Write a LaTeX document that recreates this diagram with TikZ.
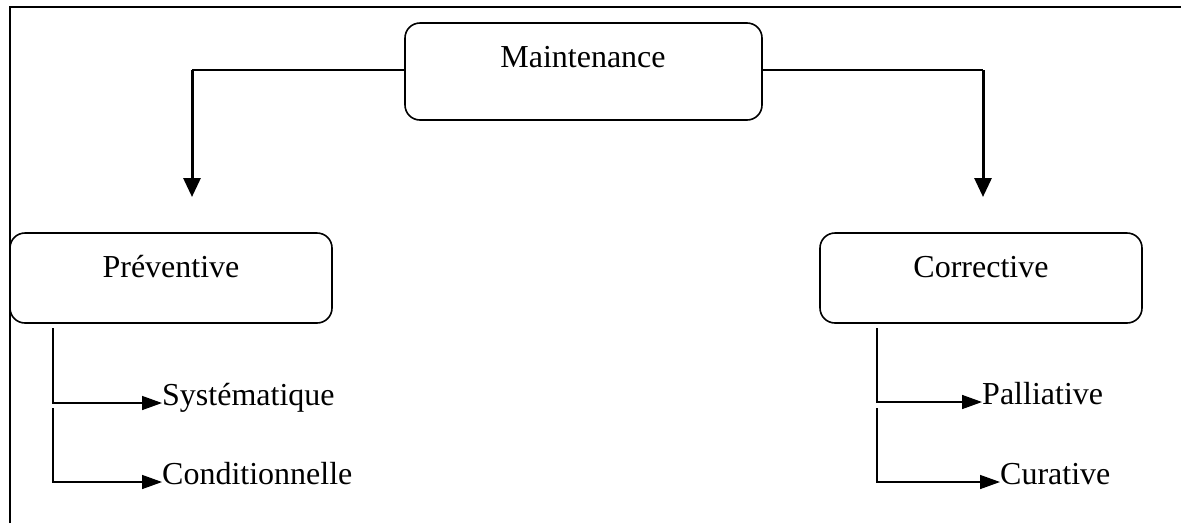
\documentclass[tikz,border=0pt]{standalone}
\usepackage{fontspec}
\setmainfont{Liberation Serif}
\usetikzlibrary{arrows.meta}
\begin{document}
\begin{tikzpicture}[x=1pt,y=-1pt,
  box/.style={draw,line width=1.6pt,rounded corners=15pt,inner sep=0pt},
  txt/.style={inner sep=0pt,font=\fontsize{32}{37}\selectfont},
  item/.style={txt,anchor=west,text height=0.68em,text depth=0.22em},
  thinline/.style={line width=1.5pt},
  bigarrow/.style={line width=3pt,-{Triangle[length=19pt,width=17pt]}},
  smallarrow/.style={line width=1.5pt,-{Triangle[length=20pt,width=14pt]}}]
\useasboundingbox (0,0) rectangle (1181,523);
% frame (only top and left visible)
\draw[line width=2pt] (10,523) -- (10,7) -- (1181,7);
% boxes
\node[box,minimum width=357pt,minimum height=97pt] (m) at (583.5,71.5) {};
\node[txt,anchor=base] (mt) at (583,67) {Maintenance};
\node[box,minimum width=322pt,minimum height=90pt] (p) at (171,278) {};
\node[txt,anchor=base] (pt) at (171,277) {Préventive};
\node[box,minimum width=322pt,minimum height=90pt] (c) at (981,278) {};
\node[txt,anchor=base] (ct) at (981,277) {Corrective};
% main connectors
\coordinate (lc) at (192,70);
\coordinate (la) at (192,197);
\coordinate (rc) at (983,70);
\coordinate (ra) at (983,197);
\draw[thinline] (m.west |- lc) -- (lc);
\draw[bigarrow] (lc) -- (la);
\draw[thinline] (m.east |- rc) -- (rc);
\draw[bigarrow] (rc) -- (ra);
% sub items
\node[item] (s1) at (162,403) {Systématique};
\node[item] (s2) at (162,482) {Conditionnelle};
\node[item] (s3) at (982,402) {Palliative};
\node[item] (s4) at (1000,482) {Curative};
\coordinate (p1) at (53,328);
\coordinate (p2) at (53,408);
\coordinate (c1) at (877,328);
\coordinate (c2) at (877,408);
\draw[smallarrow] (p1) |- (s1.west);
\draw[smallarrow] (p2) |- (s2.west);
\draw[smallarrow] (c1) |- (s3.west);
\draw[smallarrow] (c2) |- (s4.west);
\end{tikzpicture}
\end{document}
